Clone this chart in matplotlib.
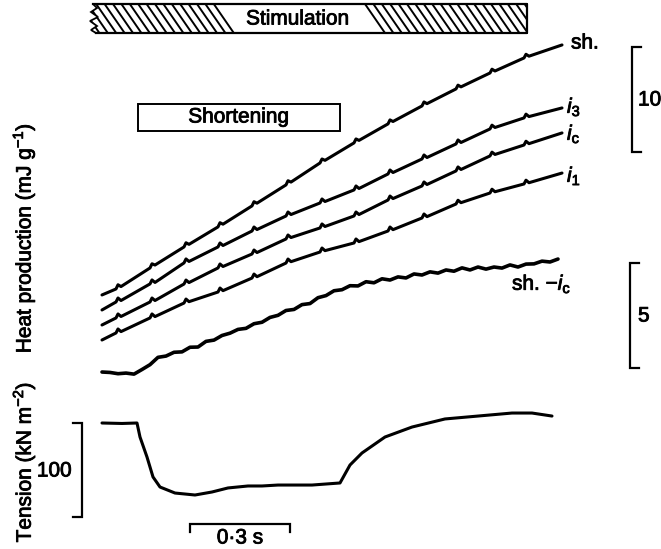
import numpy as np
import matplotlib.pyplot as plt
import matplotlib.patheffects as pe
from matplotlib.patches import Polygon, Rectangle

plt.rcParams['font.family'] = ['Liberation Sans', 'DejaVu Sans']
plt.rcParams['mathtext.fontset'] = 'custom'
plt.rcParams['mathtext.rm'] = 'Liberation Sans'
plt.rcParams['mathtext.it'] = 'Liberation Sans:italic'

# heat traces (mJ g-1 above each trace's own start), common time base in s
# every 3 points: just before a stimulus artefact, its peak, just after
t_heat = [0.000,
          0.042, 0.048, 0.057, 0.144, 0.150, 0.159, 0.246, 0.252, 0.261,
          0.348, 0.354, 0.363, 0.450, 0.456, 0.465, 0.552, 0.558, 0.567,
          0.654, 0.660, 0.669, 0.756, 0.762, 0.771, 0.858, 0.864, 0.873,
          0.960, 0.966, 0.975, 1.062, 1.068, 1.077, 1.164, 1.170, 1.179,
          1.266, 1.272, 1.281,
          1.380]
heat_sh = [0.00,
           0.57, 0.97, 0.80, 2.57, 2.97, 2.85, 4.57, 4.97, 4.82,
           6.48, 6.88, 6.74, 8.48, 8.88, 8.74, 10.48, 10.88, 10.75,
           12.57, 12.95, 12.82, 14.48, 14.86, 14.72, 16.29, 16.67, 16.52,
           18.00, 18.38, 18.22, 19.62, 19.98, 19.82, 21.14, 21.50, 21.33,
           22.57, 22.92, 22.74,
           23.81]
heat_i3 = [0.00,
           0.76, 1.14, 0.90, 2.48, 2.86, 2.62, 4.48, 4.86, 4.62,
           6.00, 6.38, 6.14, 7.52, 7.90, 7.66, 8.95, 9.33, 9.09,
           10.19, 10.57, 10.33, 11.43, 11.81, 11.57, 12.95, 13.33, 13.09,
           14.38, 14.76, 14.52, 15.81, 16.19, 15.95, 17.24, 17.60, 17.38,
           18.29, 18.65, 18.42,
           19.24]
heat_ic = [0.00,
           0.67, 1.05, 0.81, 2.19, 2.57, 2.33, 3.90, 4.28, 4.04,
           5.43, 5.81, 5.57, 6.76, 7.14, 6.90, 8.19, 8.57, 8.33,
           9.24, 9.62, 9.38, 10.38, 10.76, 10.52, 11.90, 12.28, 12.04,
           13.24, 13.62, 13.38, 14.67, 15.05, 14.81, 16.10, 16.46, 16.24,
           17.14, 17.50, 17.27,
           18.29]
heat_i1 = [0.00,
           0.67, 1.05, 0.80, 2.10, 2.48, 2.23, 3.52, 3.90, 3.65,
           4.57, 4.95, 4.70, 5.90, 6.28, 6.03, 7.33, 7.71, 7.46,
           8.38, 8.76, 8.51, 9.24, 9.62, 9.37, 10.38, 10.76, 10.51,
           11.62, 12.00, 11.75, 12.95, 13.31, 13.08, 14.00, 14.36, 14.12,
           14.86, 15.22, 14.98,
           15.90]

# sh. - ic difference (mJ g-1), sampled every 0.024 s
t_diff = np.arange(58) * 0.024
heat_diff = [0.00, -0.02, -0.08, -0.05, -0.10, 0.12, 0.35, 0.70, 0.76, 0.94,
             0.96, 1.18, 1.19, 1.46, 1.52, 1.74, 1.85, 2.03, 2.08, 2.30,
             2.37, 2.60, 2.70, 2.93, 2.98, 3.21, 3.26, 3.54, 3.64, 3.87,
             3.92, 4.11, 4.10, 4.30, 4.25, 4.44, 4.38, 4.53, 4.48, 4.67,
             4.62, 4.77, 4.71, 4.86, 4.80, 4.96, 4.86, 5.00, 4.90, 5.00,
             4.95, 5.10, 5.00, 5.14, 5.15, 5.28, 5.24, 5.38]

# tension (kN m-2)
t_tension = [0.000, 0.060, 0.105, 0.114, 0.135, 0.153, 0.174, 0.219, 0.279,
             0.330, 0.378, 0.438, 0.480, 0.528, 0.630, 0.714, 0.744, 0.780,
             0.849, 0.930, 1.029, 1.128, 1.230, 1.290, 1.350]
tension = [200.0, 199.5, 200.0, 185.1, 163.8, 142.6, 131.9, 125.5, 123.4,
           126.6, 130.9, 133.0, 133.0, 134.0, 134.0, 136.2, 155.3, 168.1,
           185.1, 195.7, 204.3, 207.4, 210.6, 210.6, 207.4]

stim_on, stim_off = -0.045, 1.275
short_on, short_off = 0.108, 0.714

# layout (pixels of the 661 x 549 picture)
W, H = 661, 549
X_T0 = 102          # px where t = 0
PX_S = 1 / 0.003    # px per second
Y_H0 = 340          # px where displayed heat = 0
PX_MJ = 10.5        # px per mJ g-1
Y_P200 = 423        # px where tension = 200
PX_KN = 0.94        # px per kN m-2
DIFF_GAIN = 2.0
offs = {'sh': 4.29, 'i3': 2.86, 'ic': 1.43, 'i1': 0.0, 'diff': -3.05}


def tx(t):
    return X_T0 + t * PX_S


fig = plt.figure(figsize=(W / 100, H / 100), dpi=100)
tlim = (-X_T0 / PX_S, (W - X_T0) / PX_S)

ax_h = fig.add_axes([0, 0, 1, 1])
ax_h.set_xlim(tlim)
ax_h.set_ylim((Y_H0 - H) / PX_MJ, Y_H0 / PX_MJ)
ax_h.axis('off')

ax_p = fig.add_axes([0, 0, 1, 1])
ax_p.set_xlim(tlim)
ax_p.set_ylim(200 - (H - Y_P200) / PX_KN, 200 + Y_P200 / PX_KN)
ax_p.axis('off')

ax_px = fig.add_axes([0, 0, 1, 1])
ax_px.set_xlim(0, W)
ax_px.set_ylim(H, 0)
ax_px.axis('off')

lw = 2.2
kw = dict(color='black', lw=lw, solid_joinstyle='round', solid_capstyle='round')
ax_h.plot(t_heat, np.array(heat_sh) + offs['sh'], **kw)
ax_h.plot(t_heat, np.array(heat_i3) + offs['i3'], **kw)
ax_h.plot(t_heat, np.array(heat_ic) + offs['ic'], **kw)
ax_h.plot(t_heat, np.array(heat_i1) + offs['i1'], **kw)
ax_h.plot(t_diff, DIFF_GAIN * np.array(heat_diff) + offs['diff'],
          color='black', lw=2.6, solid_joinstyle='round', solid_capstyle='round')
ax_p.plot(t_tension, tension, **kw)

# scale bars
bk = dict(color='black', lw=1.6, solid_joinstyle='miter')
tb = 1.59
ax_h.plot([tb + 0.027, tb, tb, tb + 0.027], [17.9, 17.9, 27.9, 27.9], **bk)
tb = 1.584
ax_h.plot([tb + 0.027, tb, tb, tb + 0.027],
          [-2.67, -2.67, -2.67 + 5 * DIFF_GAIN, -2.67 + 5 * DIFF_GAIN], **bk)
ax_p.plot([0.264, 0.264, 0.564, 0.564], [84, 92.5, 92.5, 84], **bk)
ax_p.plot([-0.087, -0.06, -0.06, -0.087], [100, 100, 200, 200], **bk)

# stimulation bar
x0, x1 = tx(stim_on), tx(stim_off)
y0, y1 = 4, 33
bar = Polygon([(x0 + 6, y0), (x1, y0), (x1, y1), (x0 + 9, y1), (x0 + 4, y1 - 3),
               (x0 + 10, y1 - 7), (x0 + 3, y1 - 12), (x0 + 11, y1 - 16),
               (x0 + 4, y1 - 21), (x0 + 10, y1 - 25)],
              closed=True, facecolor='white', edgecolor='black', lw=1.3)
ax_px.add_patch(bar)
for xs in np.arange(x0 - 16, x1, 8.4):
    if 222 < xs < 360:
        continue
    ln, = ax_px.plot([xs, xs + 20], [y0, y1], color='black', lw=1.4)
    ln.set_clip_path(bar)
ax_px.plot([x0 + 6, x1, x1, x0 + 9], [y0, y0, y1, y1], color='black', lw=1.6)

# text is a little heavier in the scanned original
heavy = [pe.withStroke(linewidth=0.6, foreground='black')]
ax_px.text(298, 19, 'Stimulation', fontsize=15, ha='center', va='center',
           path_effects=heavy)

# shortening box
ax_px.add_patch(Rectangle((tx(short_on), 104), tx(short_off) - tx(short_on), 27,
                          facecolor='none', edgecolor='black', lw=1.4))
ax_px.text((tx(short_on) + tx(short_off)) / 2, 117, 'Shortening',
           fontsize=15, ha='center', va='center', path_effects=heavy)

# labels
fs = 15
tk = dict(fontsize=fs, va='center', path_effects=heavy)
ax_px.text(571, 43, 'sh.', ha='left', **tk)
ax_px.text(567, 107, '$i_3$', ha='left', **tk)
ax_px.text(567, 134, r'$i_{\mathrm{c}}$', ha='left', **tk)
ax_px.text(567, 176, '$i_1$', ha='left', **tk)
ax_px.text(512, 284, r'sh. $-i_{\mathrm{c}}$', ha='left', **tk)
ax_px.text(638, 100, '10', ha='left', **tk)
ax_px.text(638, 316, '5', ha='left', **tk)
ax_px.text(72, 471, '100', ha='right', **tk)
ax_px.text(240, 538, '0\u00b73 s', ha='center', **tk)
ax_px.text(24, 238, 'Heat production (mJ g$^{-1}$)', rotation=90,
           ha='center', **tk)
ax_px.text(24, 462, 'Tension (kN m$^{-2}$)', rotation=90, ha='center', **tk)

fig.savefig('out.png', dpi=100, facecolor='white')
